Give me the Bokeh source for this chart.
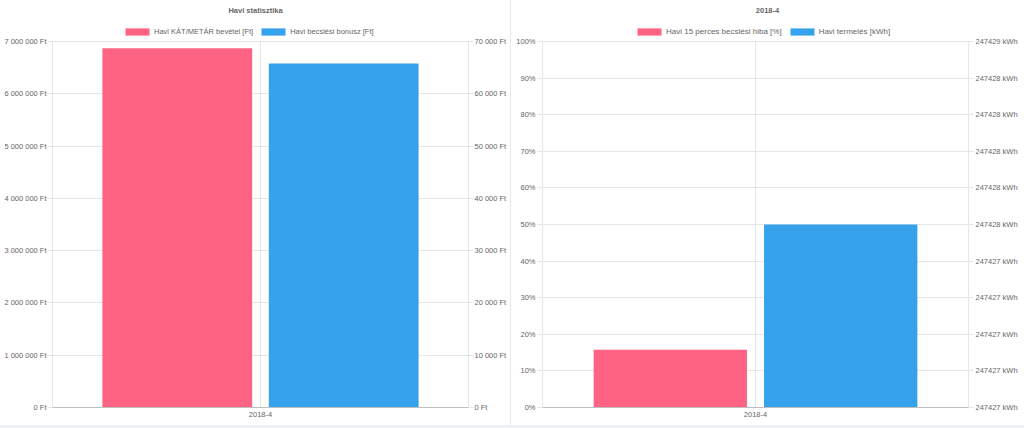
from bokeh.plotting import figure
from bokeh.models import (FactorRange, Range1d, LinearAxis, FixedTicker, CustomJSTickFormatter,
                          Legend, LegendItem, ColumnDataSource, Spacer, Label)
from bokeh.layouts import row, column
from bokeh.transform import dodge
from bokeh.embed import file_html
from bokeh.resources import INLINE

# ---------------- data ----------------
categories = ["2018-4"]

# left chart: "Havi statisztika"
kat_revenue_ft = [6870000]
estimation_bonus_ft = [65800]
left_ticks = [0, 1000000, 2000000, 3000000, 4000000, 5000000, 6000000, 7000000]
left_labels = ["0 Ft", "1 000 000 Ft", "2 000 000 Ft", "3 000 000 Ft", "4 000 000 Ft",
               "5 000 000 Ft", "6 000 000 Ft", "7 000 000 Ft"]
right_ticks = [0, 10000, 20000, 30000, 40000, 50000, 60000, 70000]
right_labels = ["0 Ft", "10 000 Ft", "20 000 Ft", "30 000 Ft", "40 000 Ft",
                "50 000 Ft", "60 000 Ft", "70 000 Ft"]

# right chart: "2018-4"
error_pct = [15.8]
production_kwh = [247427.6]
pct_ticks = [0, 10, 20, 30, 40, 50, 60, 70, 80, 90, 100]
pct_labels = ["0%", "10%", "20%", "30%", "40%", "50%", "60%", "70%", "80%", "90%", "100%"]

titles = ["Havi statisztika", "2018-4"]
series_left = ["Havi KÁT/METÁR bevétel [Ft]", "Havi becslési bonusz [Ft]"]
series_right = ["Havi 15 perces becslési hiba [%]", "Havi termelés [kWh]"]

# ---------------- style / layout ----------------
FONT = "Liberation Sans"
TXT = "#666666"
GRID = "#e6e6e6"
ZERO = "#bfbfbf"
RED = "#ff6384"
BLUE = "#36a2eb"
FS = "7.5px"
H = 425          # figure height
BOTTOM = 18      # space below the frame (x labels)
F = H - BOTTOM   # frame height (frame starts at the very top)
TOP_GAP = 41     # pixels between the top of the figure and the axis maximum
EXT = F / (F - TOP_GAP)


def make_fig(width, left, right, y_start, y_end):
    p = figure(width=width, height=H, x_range=FactorRange(factors=categories),
               y_range=Range1d(y_start, y_start + (y_end - y_start) * EXT),
               toolbar_location=None, output_backend="svg",
               min_border_left=left, min_border_right=right, min_border_top=0,
               min_border_bottom=BOTTOM)
    p.outline_line_color = None
    p.background_fill_color = "white"
    p.border_fill_color = "white"
    p.xgrid.grid_line_color = None
    p.ygrid.grid_line_color = GRID
    xa = p.xaxis[0]
    xa.axis_line_color = ZERO
    xa.major_tick_line_color = None
    xa.minor_tick_line_color = None
    xa.major_tick_out = 0
    xa.major_label_standoff = 4
    xa.major_label_text_font = FONT
    xa.major_label_text_font_size = FS
    xa.major_label_text_color = TXT
    # vertical grid line at the category centre, limited to the axis extent
    p.segment(x0=categories, y0=[y_start], x1=categories, y1=[y_end],
              line_color=GRID, line_width=1, level="underlay")
    return p


def style_y(ax, standoff, bounds):
    ax.bounds = bounds
    ax.axis_line_color = GRID
    ax.major_tick_line_color = GRID
    ax.minor_tick_line_color = None
    ax.major_tick_in = 0
    ax.major_tick_out = 5
    ax.major_label_standoff = standoff
    ax.major_label_text_font = FONT
    ax.major_label_text_font_size = FS
    ax.major_label_text_color = TXT


def add_header(p, items, legend_x, title, title_x, legend_fs):
    lg = Legend(items=items, orientation="horizontal", location=(legend_x, F - 36),
                glyph_width=30, glyph_height=9, label_height=9,
                label_text_font=FONT, label_text_font_size=legend_fs, label_text_color=TXT,
                label_standoff=2, spacing=5, padding=0, margin=0,
                border_line_color=None, background_fill_alpha=0)
    p.add_layout(lg, "center")
    p.add_layout(Label(x=title_x, y=F - 10, x_units="screen", y_units="screen", text=title,
                       text_align="center", text_baseline="middle", text_font=FONT,
                       text_font_size=FS, text_font_style="bold", text_color=TXT))


# ---------------- left chart ----------------
p1 = make_fig(510, 52, 42, left_ticks[0], left_ticks[-1])
p1.extra_y_ranges = {"right": Range1d(right_ticks[0],
                                      right_ticks[0] + (right_ticks[-1] - right_ticks[0]) * EXT)}
src1 = ColumnDataSource(dict(cat=categories, a=kat_revenue_ft, b=estimation_bonus_ft))
r1 = p1.vbar(x=dodge("cat", -0.2, range=p1.x_range), top="a", width=0.36, source=src1,
             fill_color=RED, line_color=None)
r2 = p1.vbar(x=dodge("cat", 0.2, range=p1.x_range), top="b", width=0.36, source=src1,
             fill_color=BLUE, line_color=None, y_range_name="right")
ya = p1.yaxis[0]
ya.ticker = FixedTicker(ticks=left_ticks)
ya.major_label_overrides = dict(zip(left_ticks, left_labels))
p1.ygrid.ticker = FixedTicker(ticks=left_ticks)
style_y(ya, 1, (left_ticks[0], left_ticks[-1]))
ra = LinearAxis(y_range_name="right", ticker=FixedTicker(ticks=right_ticks))
ra.major_label_overrides = dict(zip(right_ticks, right_labels))
style_y(ra, 1, (right_ticks[0], right_ticks[-1]))
p1.add_layout(ra, "right")
add_header(p1, [LegendItem(label=series_left[0], renderers=[r1]),
                LegendItem(label=series_left[1], renderers=[r2])], 70, titles[0], 255 - 52,
           "7.5px")

# ---------------- right chart ----------------
p2 = make_fig(513, 31, 56, pct_ticks[0], pct_ticks[-1])
kwh_lo = production_kwh[0] - 1
kwh_hi = production_kwh[0] + 1
p2.extra_y_ranges = {"right": Range1d(kwh_lo, kwh_lo + (kwh_hi - kwh_lo) * EXT)}
src2 = ColumnDataSource(dict(cat=categories, a=error_pct, b=production_kwh))
q1 = p2.vbar(x=dodge("cat", -0.2, range=p2.x_range), top="a", width=0.36, source=src2,
             fill_color=RED, line_color=None)
q2 = p2.vbar(x=dodge("cat", 0.2, range=p2.x_range), top="b", bottom=kwh_lo, width=0.36,
             source=src2, fill_color=BLUE, line_color=None, y_range_name="right")
ya2 = p2.yaxis[0]
ya2.ticker = FixedTicker(ticks=pct_ticks)
ya2.major_label_overrides = dict(zip(pct_ticks, pct_labels))
p2.ygrid.ticker = FixedTicker(ticks=pct_ticks)
style_y(ya2, 2, (pct_ticks[0], pct_ticks[-1]))
kwh_ticks = [kwh_lo + i * (kwh_hi - kwh_lo) / 10 for i in range(11)]
ra2 = LinearAxis(y_range_name="right", ticker=FixedTicker(ticks=kwh_ticks),
                 formatter=CustomJSTickFormatter(code="return Math.round(tick) + ' kWh';"))
style_y(ra2, 2, (kwh_lo, kwh_hi))
p2.add_layout(ra2, "right")
add_header(p2, [LegendItem(label=series_right[0], renderers=[q1]),
                LegendItem(label=series_right[1], renderers=[q2])], 92, titles[1], 256 - 31,
           "8px")

sep = Spacer(width=1, height=H, styles={"background-color": "#e6e8ec"})
strip = Spacer(width=1024, height=3, styles={"background-color": "#eef0f4"})
layout = column(row(p1, sep, p2, spacing=0), strip, spacing=0)

open("out.html", "w").write(file_html(layout, INLINE))
